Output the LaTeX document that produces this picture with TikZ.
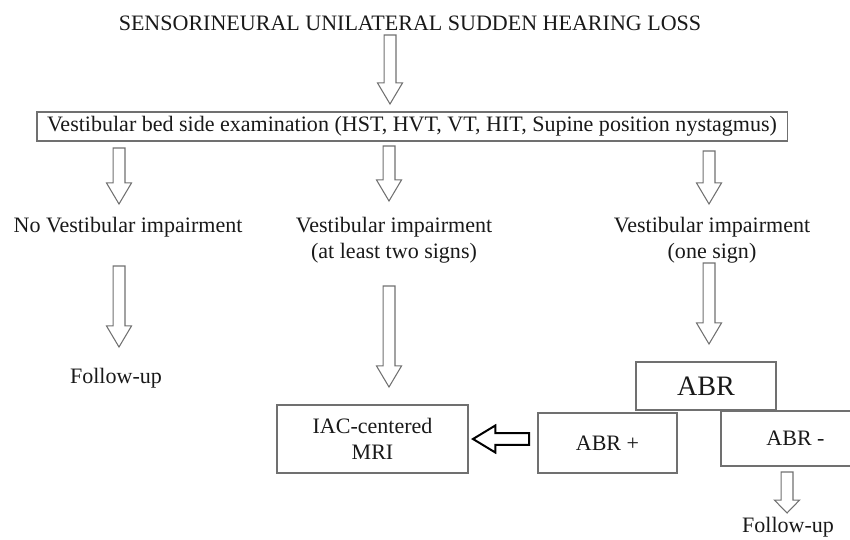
\documentclass[tikz,border=0pt]{standalone}
\usepackage{fontspec}
\setmainfont{Liberation Serif}
\usepackage{xcolor}
\usepackage{tikz}
\usetikzlibrary{calc,positioning,backgrounds}
\pgfdeclarelayer{edgelayer}
\pgfdeclarelayer{nodelayer}
\pgfsetlayers{background,edgelayer,nodelayer,main}
\definecolor{edgegray}{RGB}{112,112,112}
\tikzstyle{none}=[inner sep=0mm]
\tikzstyle{txt}=[inner sep=0mm,align=center,text=black!90]
\tikzstyle{box}=[txt,draw=edgegray,line width=0.9pt]
\tikzset{
	arrshaft/.store in=\arrshaft, arrhead/.store in=\arrhead, arrheadlen/.store in=\arrheadlen,
	arrshaft=5.1pt, arrhead=10.7pt, arrheadlen=18pt,
	hollow/.style={draw=edgegray,line width=0.9pt,line join=miter,to path={
		let \p1=(\tikztostart), \p2=(\tikztotarget),
		\n1={atan2(\y2-\y1,\x2-\x1)}, \n2={veclen(\x2-\x1,\y2-\y1)},
		\n3={atan2(\arrhead,\arrheadlen)}, \n4={veclen(\arrhead,\arrheadlen)} in
		(\p1) ++(\n1+90:\arrshaft) -- ++(\n1:\n2-\arrheadlen) -- ++(\n1+90:\arrhead-\arrshaft)
		-- ++(\n1-\n3:\n4) -- ++(\n1+180+\n3:\n4) -- ++(\n1+90:\arrhead-\arrshaft)
		-- ++(\n1+180:\n2-\arrheadlen) -- cycle}}
}

\begin{document}
\begin{tikzpicture}[x=0.03cm,y=-0.03cm,font=\fontsize{18.8}{22.5}\selectfont]
	\useasboundingbox (0,0) rectangle (850,540);
	\begin{pgfonlayer}{nodelayer}
		\node [style=txt] (title) at (410,23) {SENSORINEURAL UNILATERAL SUDDEN HEARING LOSS};
		\node [style=box,minimum width=22.5cm,minimum height=0.87cm] (exam) at (412,126.5) {Vestibular bed side examination (HST, HVT, VT, HIT, Supine position nystagmus)};
		\node [style=txt] (noimp) at (128,227) {No Vestibular impairment};
		\node [style=txt] (twosigns) at (394,240) {Vestibular impairment\\(at least two signs)};
		\node [style=txt] (onesign) at (712,240) {Vestibular impairment\\(one sign)};
		\node [style=txt] (fup1) at (116,378) {Follow-up};
		\node [style=box,minimum width=4.2cm,minimum height=1.44cm,font=\fontsize{24}{28}\selectfont] (abr) at (706,386) {ABR};
		\node [style=box,minimum width=4.17cm,minimum height=1.8cm] (abrpos) at (607.5,443) {ABR +};
		\node [style=box,minimum width=4.47cm,minimum height=1.65cm] (abrneg) at (795.5,438.5) {ABR -};
		\node [style=box,minimum width=5.73cm,minimum height=2.04cm] (mri) at (372.5,439) {IAC-centered\\MRI};
		\node [style=txt] (fup2) at (788,527) {Follow-up};
		\coordinate (s0) at (390,35);   \coordinate (e0) at (390,104);
		\coordinate (s1) at (119,148);  \coordinate (e1) at (119,204);
		\coordinate (s2) at (389,146);  \coordinate (e2) at (389,201);
		\coordinate (s3) at (709,151);  \coordinate (e3) at (709,204);
		\coordinate (s4) at (119,266);  \coordinate (e4) at (119,347);
		\coordinate (s5) at (389,286);  \coordinate (e5) at (389,387);
		\coordinate (s6) at (709,263);  \coordinate (e6) at (709,344);
		\coordinate (s7) at (787,472);  \coordinate (e7) at (787,513);
		\coordinate (s8) at (529,439);  \coordinate (e8) at (473,439);
	\end{pgfonlayer}
	\begin{pgfonlayer}{edgelayer}
		\draw [hollow] (s0) to (e0);
		\draw [hollow] (s1) to (e1);
		\draw [hollow] (s2) to (e2);
		\draw [hollow] (s3) to (e3);
		\draw [hollow] (s4) to (e4);
		\draw [hollow] (s5) to (e5);
		\draw [hollow] (s6) to (e6);
		\draw [hollow,arrheadlen=11pt] (s7) to (e7);
		\draw [hollow,draw=black,line width=1.7pt,arrhead=11.5pt,arrheadlen=19pt] (s8) to (e8);
	\end{pgfonlayer}
\end{tikzpicture}
\end{document}
